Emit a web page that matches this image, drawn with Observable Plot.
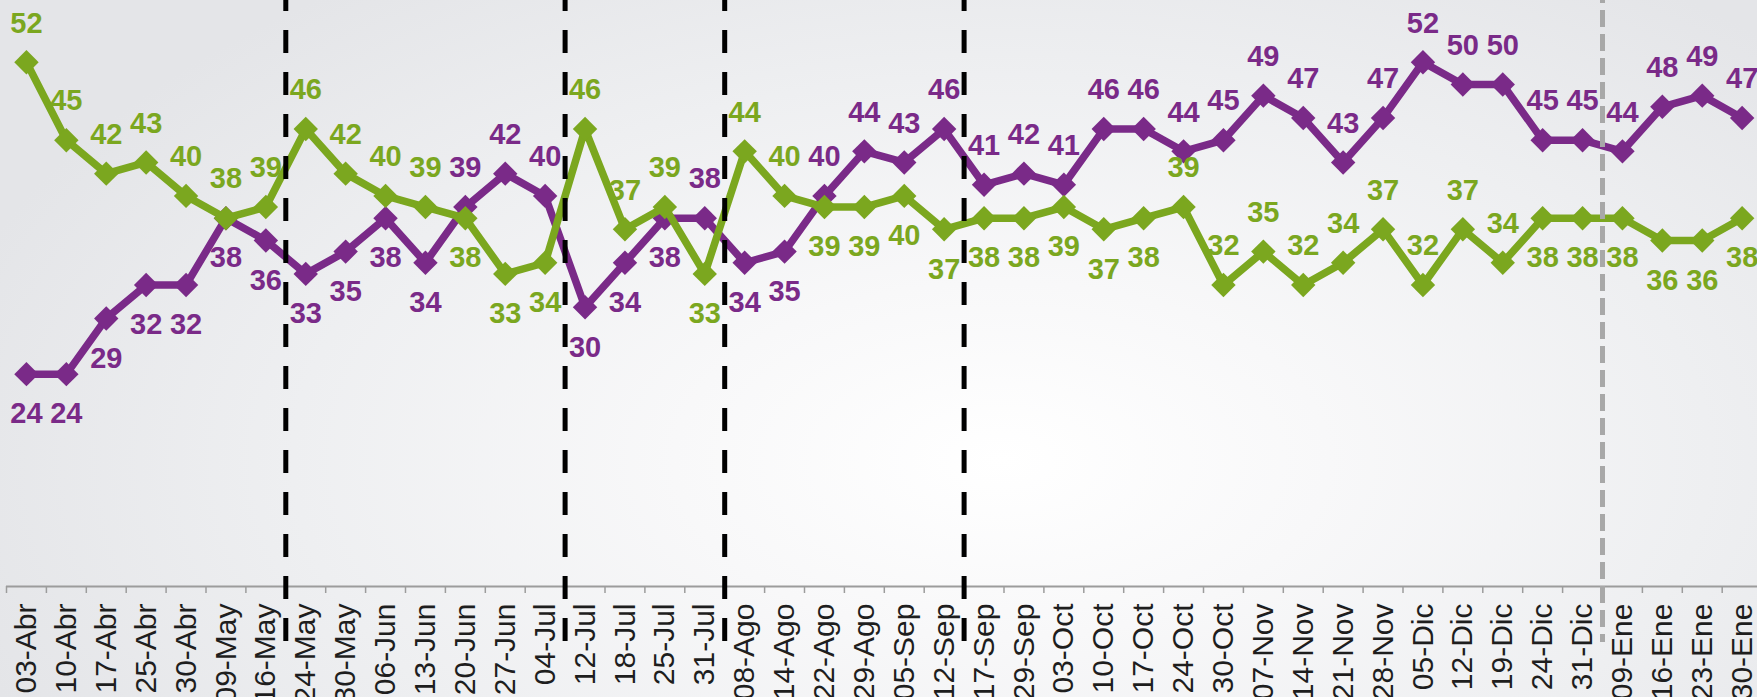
<!DOCTYPE html>
<html><head><meta charset="utf-8">
<script src="https://cdn.jsdelivr.net/npm/d3@7"></script>
<script src="https://cdn.jsdelivr.net/npm/@observablehq/plot@0.6"></script>
<style>
html,body{margin:0;padding:0;overflow:hidden;}
body{width:1757px;height:697px;background:radial-gradient(ellipse 62% 85% at 57% 66%, #ffffff 0%, #f8f8f9 30%, #eeeff1 65%, #e4e5e8 100%);}
#chart svg{display:block;}
</style></head><body><div id="chart"></div><script>
// ---- data ----
const categories = ["03-Abr","10-Abr","17-Abr","25-Abr","30-Abr","09-May","16-May","24-May","30-May","06-Jun","13-Jun","20-Jun","27-Jun","04-Jul","12-Jul","18-Jul","25-Jul","31-Jul","08-Ago","14-Ago","22-Ago","29-Ago","05-Sep","12-Sep","17-Sep","29-Sep","03-Oct","10-Oct","17-Oct","24-Oct","30-Oct","07-Nov","14-Nov","21-Nov","28-Nov","05-Dic","12-Dic","19-Dic","24-Dic","31-Dic","09-Ene","16-Ene","23-Ene","30-Ene"];
const purpleValues = [24,24,29,32,32,38,36,33,35,38,34,39,42,40,30,34,38,38,34,35,40,44,43,46,41,42,41,46,46,44,45,49,47,43,47,52,50,50,45,45,44,48,49,47];
const greenValues  = [52,45,42,43,40,38,39,46,42,40,39,38,33,34,46,37,39,33,44,40,39,39,40,37,38,38,39,37,38,39,32,35,32,34,37,32,37,34,38,38,38,36,36,38];
// label placement: "a" = above the point, "b" = below
const purpleLabelSide = ["b","b","b","b","b","b","b","b","b","b","b","a","a","a","b","b","b","a","b","b","a","a","a","a","a","a","a","a","a","a","a","a","a","a","a","a","a","a","a","a","a","a","a","a"];
const greenLabelSide  = ["a","a","a","a","a","a","a","a","a","a","a","b","b","b","a","a","a","b","a","a","b","b","b","b","b","b","b","b","b","a","a","a","a","a","a","a","a","a","b","b","b","b","b","b"];
// vertical dashed markers: drawn just before these categories
const blackMarkersBefore = ["24-May","12-Jul","08-Ago","17-Sep"];
const grayMarkersBefore = ["09-Ene"];

// ---- styles ----
const PURPLE = "#7a2a88";
const GREEN = "#7ba71f";
const Y0 = 4.94, Y1 = 57.54;
const H = 697, AXIS_Y = 586;
const ppu = AXIS_Y / (Y1 - Y0);

const rows = categories.map((c, i) => ({
  c, x: i + 0.5, p: purpleValues[i], g: greenValues[i], ps: purpleLabelSide[i], gs: greenLabelSide[i]
}));
const boundaries = d3.range(0, categories.length + 1);
const blackX = blackMarkersBefore.map(c => categories.indexOf(c));
const grayX = grayMarkersBefore.map(c => categories.indexOf(c));

const labelFont = {fontSize: 29, fontWeight: "bold", fontFamily: "'Liberation Sans', Arial, sans-serif"};

const chart = Plot.plot({
  width: 1757, height: H,
  marginTop: 0, marginBottom: H - AXIS_Y, marginLeft: 6, marginRight: 0,
  x: {type: "linear", domain: [0, categories.length], range: [6, 1761.6], axis: null},
  y: {domain: [Y0, Y1], range: [AXIS_Y, 0], axis: null},
  style: {background: "transparent", fontFamily: "'Liberation Sans', Arial, sans-serif", overflow: "hidden"},
  marks: [
    // axis line and boundary ticks
    Plot.ruleY([Y0], {stroke: "#9c9c9c", strokeWidth: 2}),
    Plot.ruleX(boundaries, {x: d => d, y1: Y0, y2: Y0 - 7 / ppu, stroke: "#9c9c9c", strokeWidth: 1.5}),
    // category labels
    Plot.text(rows, {x: "x", frameAnchor: "bottom", text: "c", rotate: -90, textAnchor: "end", lineAnchor: "middle",
      dy: 17, fontSize: 30, fill: "#1e1e1e", fontFamily: "'Liberation Sans', Arial, sans-serif"}),
    // purple series
    Plot.line(rows, {x: "x", y: "p", stroke: PURPLE, strokeWidth: 7.5, strokeLinejoin: "miter"}),
    Plot.dot(rows, {x: "x", y: "p", symbol: "diamond2", r: 11, fill: PURPLE, stroke: "none"}),
    // green series
    Plot.line(rows, {x: "x", y: "g", stroke: GREEN, strokeWidth: 7.5, strokeLinejoin: "miter"}),
    Plot.dot(rows, {x: "x", y: "g", symbol: "diamond2", r: 11, fill: GREEN, stroke: "none"}),
    // labels
    Plot.text(rows, {filter: d => d.ps === "a", x: "x", y: "p", text: d => String(d.p), dy: -39, fill: PURPLE, ...labelFont}),
    Plot.text(rows, {filter: d => d.ps === "b", x: "x", y: "p", text: d => String(d.p), dy: 40, fill: PURPLE, ...labelFont}),
    Plot.text(rows, {filter: d => d.gs === "a", x: "x", y: "g", text: d => String(d.g), dy: -39, fill: GREEN, ...labelFont}),
    Plot.text(rows, {filter: d => d.gs === "b", x: "x", y: "g", text: d => String(d.g), dy: 40, fill: GREEN, ...labelFont}),
    // vertical dashed markers
    Plot.ruleX(blackX, {x: d => d, y1: Y1 + 12 / ppu, y2: Y0 - 59 / ppu, stroke: "#000", strokeWidth: 5, strokeDasharray: "23,19"}),
    Plot.ruleX(grayX, {x: d => d, y1: Y1 + 14 / ppu, y2: Y0 - 56 / ppu, stroke: "#a8a8a8", strokeWidth: 5, strokeDasharray: "17,7"})
  ]
});
document.getElementById("chart").appendChild(chart);
</script></body></html>
